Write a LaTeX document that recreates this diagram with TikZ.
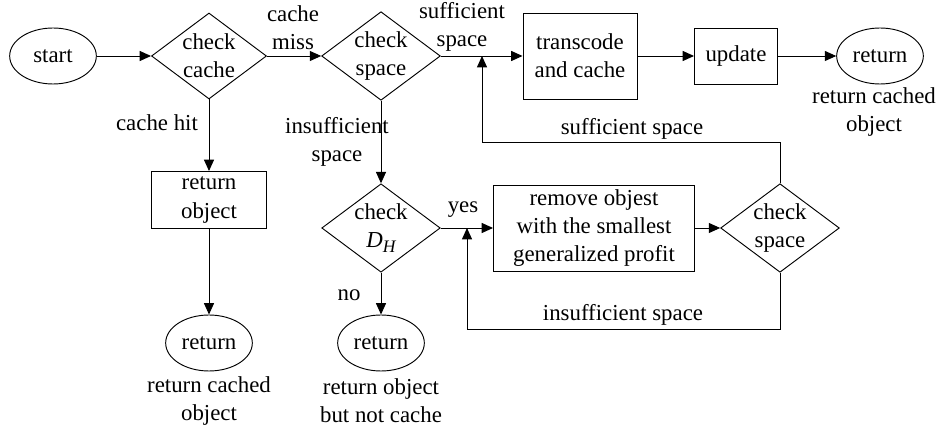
\documentclass[tikz,border=0pt]{standalone}
\usepackage{fontspec}
\setmainfont{Liberation Serif}
\usetikzlibrary{arrows.meta, shapes.geometric}

\tikzset{
  base/.style={draw, line width=0.8pt, inner sep=0pt, align=center},
  oval/.style={base, ellipse, minimum width=2.6cm, minimum height=1.68cm},
  decide/.style={base, diamond, aspect=1.34, minimum width=3.45cm, minimum height=2.58cm},
  proc/.style={base, rectangle},
  lbl/.style={align=center, inner sep=0pt},
  arr/.style={line width=0.8pt, -{Triangle[length=3.4mm, width=3mm]}}
}
\newcommand{\dsubh}{{\itshape D\raisebox{-0.45ex}{\fontsize{15}{15}\selectfont H}}}

\begin{document}
\begin{tikzpicture}[x=0.03cm, y=-0.03cm, font=\fontsize{19.5}{24}\selectfont]
  \useasboundingbox (0,0) rectangle (938,427);

  % Main row
  \node[oval] (start) at (53,56) {start};
  \node[decide] (chkcache) at (209,56) {check\\cache};
  \node[decide] (chkspace) at (381,56) {check\\space};
  \node[proc, minimum width=3.42cm, minimum height=2.58cm] (transcode) at (580,56) {transcode\\and cache};
  \node[proc, minimum width=2.49cm, minimum height=1.68cm] (update) at (736,56) {update};
  \node[oval] (retA) at (880,56) {return};

  % Cache hit branch
  \node[proc, minimum width=3.45cm, minimum height=1.71cm] (retobj) at (209,200) {return\\object};
  \node[oval] (retB) at (209,343) {return};

  % Insufficient space branch
  \node[decide] (chkdh) at (381,228) {check\\\dsubh};
  \node[oval] (retC) at (381,343) {return};
  \node[proc, minimum width=6.03cm, minimum height=2.58cm] (remove) at (594,228) {remove objest\\with the smallest\\generalized profit};
  \node[decide] (chkspace2) at (780,228) {check\\space};

  % Loop corners
  \coordinate (j1) at (482,56);
  \coordinate (c1) at (482,142);
  \coordinate (j2) at (467,228);
  \coordinate (c2) at (467,329);

  % Connectors
  \draw[arr] (start) -- (chkcache);
  \draw[arr] (chkcache) -- (chkspace);
  \draw[arr] (chkspace) -- (transcode);
  \draw[arr] (transcode) -- (update);
  \draw[arr] (update) -- (retA);
  \draw[arr] (chkcache) -- (retobj);
  \draw[arr] (retobj) -- (retB);
  \draw[arr] (chkspace) -- (chkdh);
  \draw[arr] (chkdh) -- (retC);
  \draw[arr] (chkdh) -- (remove);
  \draw[arr] (remove) -- (chkspace2);
  \draw[arr] (chkspace2.north) |- (c1) -- (j1);
  \draw[arr] (chkspace2.south) |- (c2) -- (j2);

  % Labels
  \node[lbl] (lmiss) at (293,28) {cache\\miss};
  \node[lbl] (lsuff) at (462,27) {sufficient\\space};
  \node[lbl] (lhit) at (157,123) {cache hit};
  \node[lbl] (linsuff) at (337,142) {insufficient\\space};
  \node[lbl] (lsuff2) at (632,129) {sufficient space};
  \node[lbl] (lyes) at (463,210) {yes};
  \node[lbl] (lno) at (349,295) {no};
  \node[lbl] (linsuff2) at (623,315) {insufficient space};
  \node[lbl] (ltxtA) at (874,112) {return cached\\object};
  \node[lbl] (ltxtB) at (209,401) {return cached\\object};
  \node[lbl] (ltxtC) at (381,401) {return object\\but not cache};
\end{tikzpicture}
\end{document}
